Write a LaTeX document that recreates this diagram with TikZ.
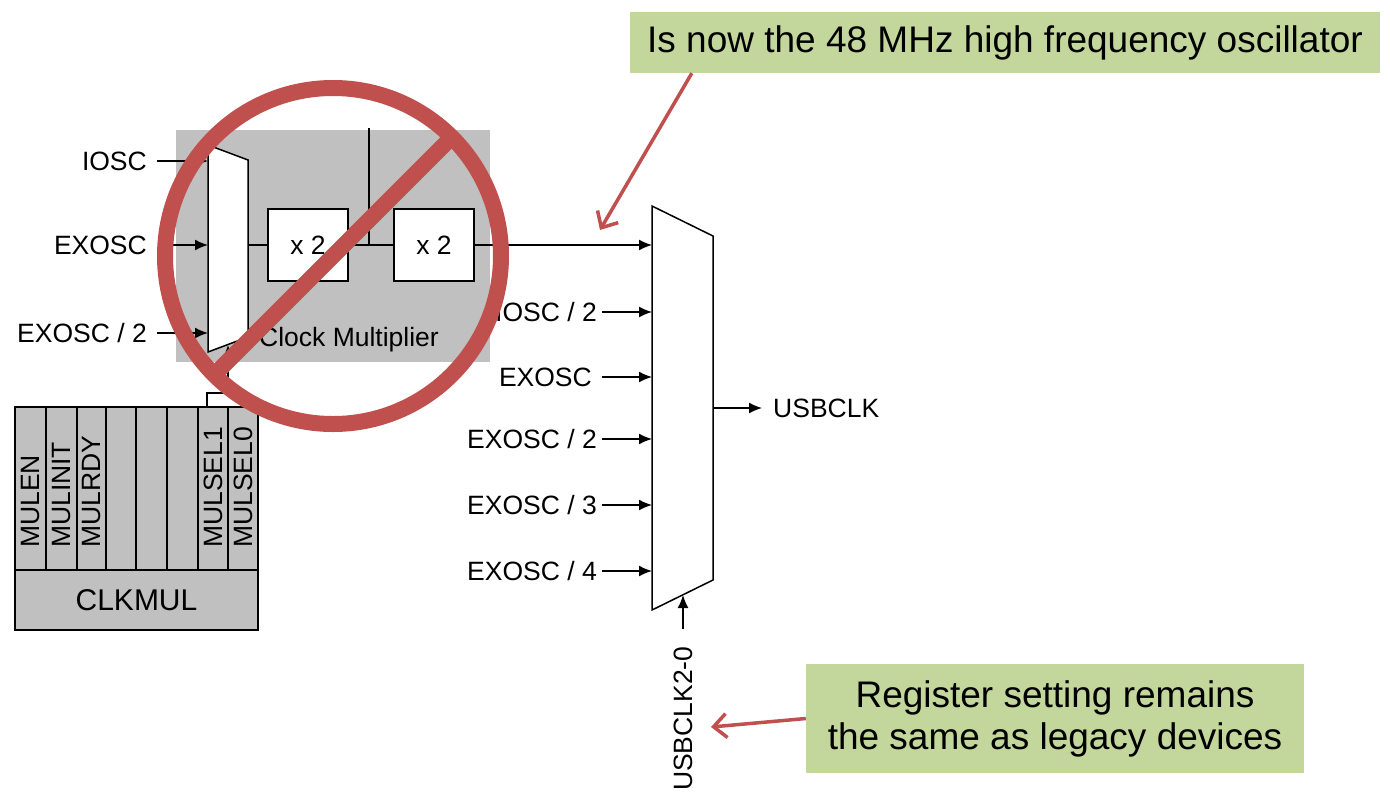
\documentclass[tikz,border=0pt]{standalone}
\usepackage{fontspec}
\setmainfont{Liberation Sans}
\usetikzlibrary{arrows.meta}
\definecolor{noteGreen}{HTML}{C3D69B}
\definecolor{stopRed}{HTML}{C0504D}
\definecolor{blockGray}{HTML}{C0C0C0}
\tikzset{
  lbl/.style={font=\fontsize{26.5}{30}\selectfont, inner sep=0pt, text height=19pt, text depth=0pt},
  wire/.style={line width=1.5pt},
  sig/.style={line width=1.5pt, -{Latex[length=13pt,width=11pt]}},
  mulbox/.style={draw, line width=1.5pt, fill=white, minimum width=80pt, minimum height=72pt, font=\fontsize{26.5}{30}\selectfont},
  bitlbl/.style={rotate=90, anchor=west, inner sep=0pt, font=\fontsize{26.5}{30}\selectfont},
  note/.style={fill=noteGreen, font=\fontsize{37}{42}\selectfont, align=center},
  pointer/.style={draw=stopRed, line width=3.5pt, -{Straight Barb[length=13pt,width=24pt]}}
}
\begin{document}
\begin{tikzpicture}[x=1pt,y=-1pt]
\useasboundingbox (0,0) rectangle (1390,793);

% clock multiplier
\fill[blockGray] (176,130) rectangle (490,362);
\draw[wire, fill=white] (208,145)--(248,160)--(248,337)--(208,352)--cycle;
\coordinate (lin1) at (208,161);
\coordinate (lin2) at (208,245);
\coordinate (lin3) at (208,333);
\coordinate (lout) at (248,245);
\node[lbl, anchor=east] (iosc) at (147,161) {IOSC};
\node[lbl, anchor=east] (exosc) at (147,245) {EXOSC};
\node[lbl, anchor=east] (exoschalf) at (147,333) {EXOSC / 2};
\draw[sig] ([xshift=10pt]iosc.east) -- (lin1);
\draw[sig] ([xshift=26pt]exosc.east) -- (lin2);
\draw[sig] ([xshift=10pt]exoschalf.east) -- (lin3);
\node[mulbox] (dblA) at (308,245) {x 2};
\node[mulbox] (dblB) at (434,245) {x 2};
\coordinate (fbtop) at (369,128);
\draw[wire] (lout) -- (dblA.west);
\draw[wire] (dblA.east) -- (dblB.west);
\draw[wire] (fbtop) -- (fbtop |- dblA.east);
\node[lbl] (cmlbl) at (349,337) {Clock Multiplier};
\coordinate (lsel) at (228,345);
\draw[sig] (207,407) -- (207,393) -- (228,393) -- (lsel);

% CLKMUL register
\draw[wire, fill=blockGray] (15,407) rectangle (258,630);
\draw[wire] (15,570) -- (258,570);
\foreach \x in {46,77,106,136,167,198,228}
  \draw[wire] (\x,407) -- (\x,570);
\foreach \x/\t in {30.5/MULEN,61.5/MULINIT,91.5/MULRDY,213/MULSEL1,243/MULSEL0}
  \node[bitlbl] (bit\t) at (\x,548) {\t};
\node[font=\fontsize{30}{36}\selectfont] (clkmul) at (136.5,600) {CLKMUL};

% USB clock mux
\draw[wire, fill=white] (652,206)--(713,236)--(713,580)--(652,610)--cycle;
\foreach \i/\y in {1/245,2/312,3/377,4/439,5/505,6/571}
  \coordinate (rin\i) at (652,\y);
\draw[sig] (dblB.east) -- (rin1);
\foreach \i/\y/\x/\t in {2/312/597/{IOSC / 2},3/377/592/EXOSC,4/439/597/{EXOSC / 2},5/505/597/{EXOSC / 3},6/571/597/{EXOSC / 4}}{
  \node[lbl, anchor=east] (rl\i) at (\x,\y) {\t};
  \draw[sig] ([xshift=602pt-\x pt]rl\i.east) -- (rin\i);
}
\coordinate (rout) at (713,408);
\node[lbl, anchor=west] (usbclk) at (773,408) {USBCLK};
\draw[sig] (rout) -- ([xshift=-11pt]usbclk.west);
\coordinate (rsel) at (683,595);
\node[lbl, rotate=90, anchor=west] (usbsel) at (683,791) {USBCLK2-0};
\draw[sig] ([yshift=17pt]usbsel.east) -- (rsel);

% no sign
\coordinate (noC) at (333,256);
\draw[stopRed, line width=16pt] (noC) circle[radius=168];
\draw[stopRed, line width=16pt] (452,137) -- (214,375);

% notes
\node[note, minimum width=750pt, minimum height=61pt] (note48) at (1005,42.5) {Is now the 48 MHz high frequency oscillator};
\coordinate (tip48) at (600,230);
\draw[pointer] ([xshift=62pt]note48.south west) -- (tip48);
\node[note, minimum width=498pt, minimum height=109pt] (noteReg) at (1055,718.5) {Register setting remains\\the same as legacy devices};
\coordinate (tipReg) at (711,727);
\draw[pointer] (noteReg.west) -- (tipReg);
\end{tikzpicture}
\end{document}
